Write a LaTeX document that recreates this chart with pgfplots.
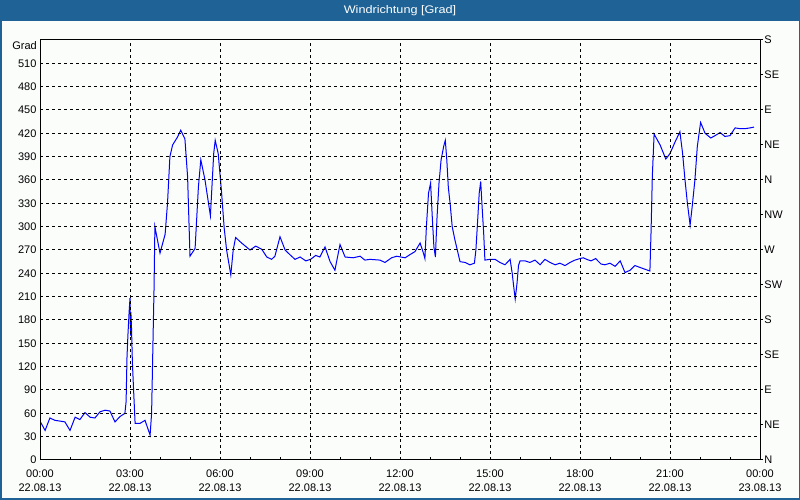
\documentclass[border=0pt]{standalone}
\usepackage{pgfplots}
\pgfplotsset{compat=1.18}
\usepackage{fontspec}
\setmainfont{Liberation Sans}
\definecolor{titleblue}{RGB}{30,98,150}
\definecolor{bgcol}{RGB}{251,253,251}
\definecolor{lineblue}{RGB}{0,0,255}
\begin{document}
\begin{tikzpicture}
\fill[titleblue] (0pt,0pt) rectangle (800pt,500pt);
\fill[bgcol] (1.5pt,1.5pt) rectangle (798.5pt,479pt);
\node[text=white,font=\fontsize{11}{13}\selectfont,xscale=1.15] at (400pt,489.5pt) {Windrichtung [Grad]};
\node[anchor=east,font=\fontsize{11}{13}\selectfont,inner sep=0pt] at (37pt,454pt) {Grad};
\begin{axis}[
  at={(40pt,40pt)}, anchor=south west,
  scale only axis, width=720pt, height=420pt,
  xmin=0, xmax=24, ymin=0, ymax=540,
  axis on top=true,
  axis line style={black, line width=1pt},
  xtick={0,3,...,24},
  xticklabels={{00:00\\22.08.13},{03:00\\22.08.13},{06:00\\22.08.13},{09:00\\22.08.13},{12:00\\22.08.13},{15:00\\22.08.13},{18:00\\22.08.13},{21:00\\22.08.13},{00:00\\23.08.13}},
  xticklabel style={align=center, font=\fontsize{11}{14.5}\selectfont, yshift=-6pt},
  minor xtick={1,2,4,5,7,8,10,11,13,14,16,17,19,20,22,23},
  ytick={0,30,...,510},
  yticklabel style={font=\fontsize{11}{13}\selectfont},
  /pgf/number format/assume math mode=true,
  xtick pos=bottom, ytick pos=left,
  tick align=inside,
  major tick length=0pt, minor tick length=3pt,
  tick style={black, line width=1pt},
  grid=major,
  major grid style={black, line width=1pt, dash pattern=on 3pt off 3pt},
  clip=true,
]
\addplot[lineblue, line width=1pt] coordinates {
(0.0,50) (0.17,38) (0.33,54) (0.5,51) (0.67,50) (0.83,49) (1.0,38) (1.17,55) (1.33,52) (1.5,61)
(1.67,55) (1.83,54) (2.0,62) (2.17,64) (2.33,63) (2.5,49) (2.67,56) (2.83,60) (2.87,75) (2.9,132)
(2.93,160) (2.97,190) (3.0,208) (3.02,160) (3.03,190) (3.05,170) (3.08,125) (3.12,90) (3.17,47) (3.33,47)
(3.5,51) (3.67,32) (3.72,60) (3.77,160) (3.8,218) (3.83,300) (4.0,266) (4.17,290) (4.25,330) (4.33,390)
(4.42,405) (4.58,415) (4.69,424) (4.83,413) (4.92,364) (5.0,262) (5.17,272) (5.28,351) (5.36,386) (5.5,360)
(5.68,314) (5.79,394) (5.84,411) (5.94,394) (6.05,345) (6.14,298) (6.22,270) (6.36,238) (6.44,270) (6.52,286)
(6.72,279) (7.0,270) (7.19,275) (7.39,271) (7.56,261) (7.72,258) (7.83,262) (8.0,287) (8.17,270) (8.33,264)
(8.5,258) (8.67,261) (8.86,256) (9.02,258) (9.19,263) (9.33,261) (9.5,274) (9.67,255) (9.83,244) (10.0,277)
(10.17,261) (10.44,260) (10.67,262) (10.83,257) (11.0,258) (11.33,257) (11.5,254) (11.72,260) (11.89,262) (12.17,260)
(12.33,264) (12.5,268) (12.67,279) (12.78,266) (12.83,259) (12.88,300) (12.95,343) (13.02,356) (13.08,309) (13.13,274)
(13.18,261) (13.23,309) (13.3,356) (13.37,386) (13.46,404) (13.51,411) (13.56,386) (13.61,351) (13.67,330) (13.74,300)
(13.83,283) (13.91,270) (14.0,255) (14.17,254) (14.33,251) (14.48,253) (14.53,270) (14.59,309) (14.64,343) (14.69,358)
(14.73,330) (14.79,291) (14.83,257) (15.0,258) (15.17,258) (15.33,254) (15.5,251) (15.67,258) (15.74,240) (15.79,223)
(15.84,207) (15.9,227) (15.95,250) (16.0,256) (16.17,256) (16.33,254) (16.5,257) (16.67,251) (16.83,258) (17.0,254)
(17.17,251) (17.33,253) (17.5,250) (17.67,254) (17.83,257) (18.0,259) (18.11,260) (18.22,258) (18.37,256) (18.52,259)
(18.7,252) (18.83,251) (19.0,253) (19.17,249) (19.34,256) (19.5,241) (19.67,244) (19.83,250) (20.11,246) (20.33,243)
(20.37,296) (20.41,364) (20.47,419) (20.67,405) (20.86,387) (21.0,394) (21.17,409) (21.33,422) (21.42,394) (21.5,360)
(21.58,330) (21.67,302) (21.74,326) (21.83,360) (21.91,403) (22.02,434) (22.17,420) (22.36,414) (22.5,417) (22.67,421)
(22.83,416) (23.0,417) (23.17,427) (23.33,426) (23.5,426) (23.67,427) (23.8,428)
};
\end{axis}
\begin{axis}[
  at={(40pt,40pt)}, anchor=south west,
  scale only axis, width=720pt, height=420pt,
  xmin=0, xmax=24, ymin=0, ymax=540,
  axis x line=none, axis y line*=right,
  axis line style={black, line width=1pt, -},
  ytick={0,45,...,540},
  yticklabels={N,NE,E,SE,S,SW,W,NW,N,NE,E,SE,S},
  yticklabel style={font=\fontsize{11}{13}\selectfont, inner sep=1.2pt},
  tick align=outside, major tick length=3pt,
  tick style={black, line width=1pt},
]
\end{axis}
\pgfresetboundingbox
\path (0pt,0pt) rectangle (800pt,500pt);
\end{tikzpicture}
\end{document}
